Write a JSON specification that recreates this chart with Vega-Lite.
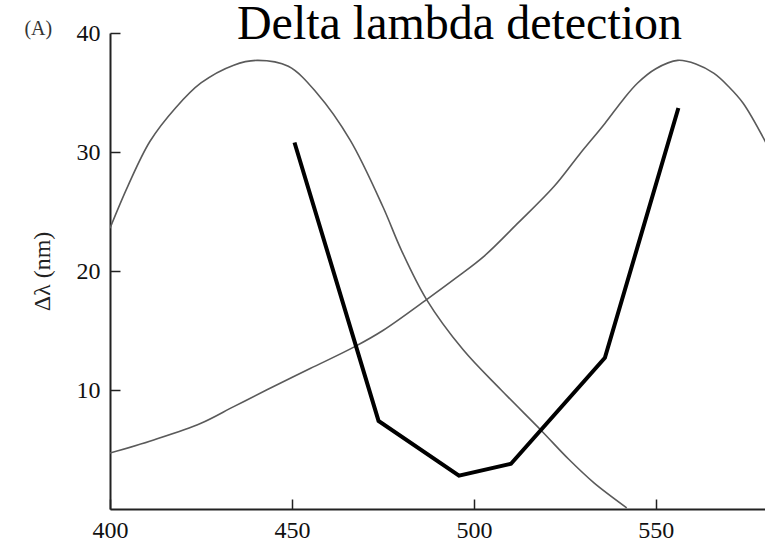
{
  "$schema": "https://vega.github.io/schema/vega-lite/v6.json",
  "width": 655,
  "height": 476,
  "autosize": {"type": "none"},
  "padding": {"left": 110, "top": 33, "right": 0, "bottom": 34},
  "background": "white",
  "config": {"view": {"stroke": null}, "font": "Liberation Serif"},
  "title": {
    "text": "Delta lambda detection",
    "font": "Liberation Serif",
    "fontSize": 48,
    "fontWeight": "normal",
    "color": "black",
    "anchor": "middle",
    "frame": "group",
    "offset": -30,
    "dx": 22
  },
  "datasets": {
    "curves": [
      {"nm": 400, "val": 23.6, "curve": "short"},
      {"nm": 405, "val": 27.2, "curve": "short"},
      {"nm": 411, "val": 30.9, "curve": "short"},
      {"nm": 418, "val": 33.7, "curve": "short"},
      {"nm": 425, "val": 35.8, "curve": "short"},
      {"nm": 434, "val": 37.3, "curve": "short"},
      {"nm": 440.5, "val": 37.7, "curve": "short"},
      {"nm": 449, "val": 37.2, "curve": "short"},
      {"nm": 457, "val": 34.9, "curve": "short"},
      {"nm": 466, "val": 31.0, "curve": "short"},
      {"nm": 475, "val": 25.4, "curve": "short"},
      {"nm": 480, "val": 21.8, "curve": "short"},
      {"nm": 487, "val": 17.6, "curve": "short"},
      {"nm": 497, "val": 13.4, "curve": "short"},
      {"nm": 507.5, "val": 10.0, "curve": "short"},
      {"nm": 518.5, "val": 6.6, "curve": "short"},
      {"nm": 526, "val": 4.2, "curve": "short"},
      {"nm": 533, "val": 2.2, "curve": "short"},
      {"nm": 542, "val": 0.1, "curve": "short"},
      {"nm": 400, "val": 4.7, "curve": "long"},
      {"nm": 412, "val": 5.8, "curve": "long"},
      {"nm": 425, "val": 7.2, "curve": "long"},
      {"nm": 434, "val": 8.6, "curve": "long"},
      {"nm": 443, "val": 10.0, "curve": "long"},
      {"nm": 455, "val": 11.8, "curve": "long"},
      {"nm": 467, "val": 13.6, "curve": "long"},
      {"nm": 475, "val": 15.0, "curve": "long"},
      {"nm": 487, "val": 17.6, "curve": "long"},
      {"nm": 495, "val": 19.4, "curve": "long"},
      {"nm": 503, "val": 21.3, "curve": "long"},
      {"nm": 512, "val": 24.0, "curve": "long"},
      {"nm": 522, "val": 27.1, "curve": "long"},
      {"nm": 529, "val": 29.8, "curve": "long"},
      {"nm": 536, "val": 32.4, "curve": "long"},
      {"nm": 541, "val": 34.4, "curve": "long"},
      {"nm": 545, "val": 35.8, "curve": "long"},
      {"nm": 550, "val": 37.0, "curve": "long"},
      {"nm": 556, "val": 37.7, "curve": "long"},
      {"nm": 561, "val": 37.4, "curve": "long"},
      {"nm": 566, "val": 36.6, "curve": "long"},
      {"nm": 570, "val": 35.5, "curve": "long"},
      {"nm": 574, "val": 34.1, "curve": "long"},
      {"nm": 580.4, "val": 30.7, "curve": "long"}
    ],
    "delta": [
      {"nm": 450.7, "val": 30.8},
      {"nm": 473.8, "val": 7.4},
      {"nm": 495.9, "val": 2.8},
      {"nm": 510.2, "val": 3.8},
      {"nm": 536.0, "val": 12.7},
      {"nm": 556.2, "val": 33.7}
    ]
  },
  "layer": [
    {
      "data": {"name": "curves"},
      "mark": {"type": "line", "color": "#5a5a5a", "strokeWidth": 1.6, "interpolate": "catmull-rom", "clip": true},
      "encoding": {
        "x": {
          "field": "nm",
          "type": "quantitative",
          "scale": {"domain": [400, 580], "nice": false, "zero": false},
          "axis": {
            "values": [400, 450, 500, 550],
            "title": null,
            "grid": false,
            "tickSize": -10,
            "tickWidth": 1.5,
            "tickColor": "#222",
            "domainColor": "#222",
            "domainWidth": 2,
            "labelPadding": 19,
            "labelFont": "Liberation Serif",
            "labelFontSize": 24,
            "labelColor": "#111",
            "labelFlush": false
          }
        },
        "y": {
          "field": "val",
          "type": "quantitative",
          "scale": {"domain": [0, 40], "nice": false},
          "axis": {
            "values": [10, 20, 30, 40],
            "title": "Δλ (nm)",
            "titleFont": "Liberation Serif",
            "titleFontSize": 24,
            "titleFontWeight": "normal",
            "titleColor": "#222",
            "titlePadding": 22,
            "grid": false,
            "tickSize": -10,
            "tickWidth": 1.5,
            "tickColor": "#222",
            "domainColor": "#222",
            "domainWidth": 2,
            "labelPadding": 20,
            "labelFont": "Liberation Serif",
            "labelFontSize": 24,
            "labelColor": "#111",
            "labelFlush": false
          }
        },
        "detail": {"field": "curve", "type": "nominal"}
      }
    },
    {
      "data": {"name": "delta"},
      "mark": {"type": "line", "color": "black", "strokeWidth": 4, "strokeJoin": "miter"},
      "encoding": {
        "x": {"field": "nm", "type": "quantitative"},
        "y": {"field": "val", "type": "quantitative"}
      }
    },
    {
      "data": {"values": [{"label": "(A)"}]},
      "mark": {"type": "text", "font": "Liberation Serif", "fontSize": 20, "color": "#333", "align": "center", "baseline": "middle"},
      "encoding": {
        "x": {"datum": 380.3},
        "y": {"datum": 40.3},
        "text": {"field": "label"}
      }
    }
  ]
}
